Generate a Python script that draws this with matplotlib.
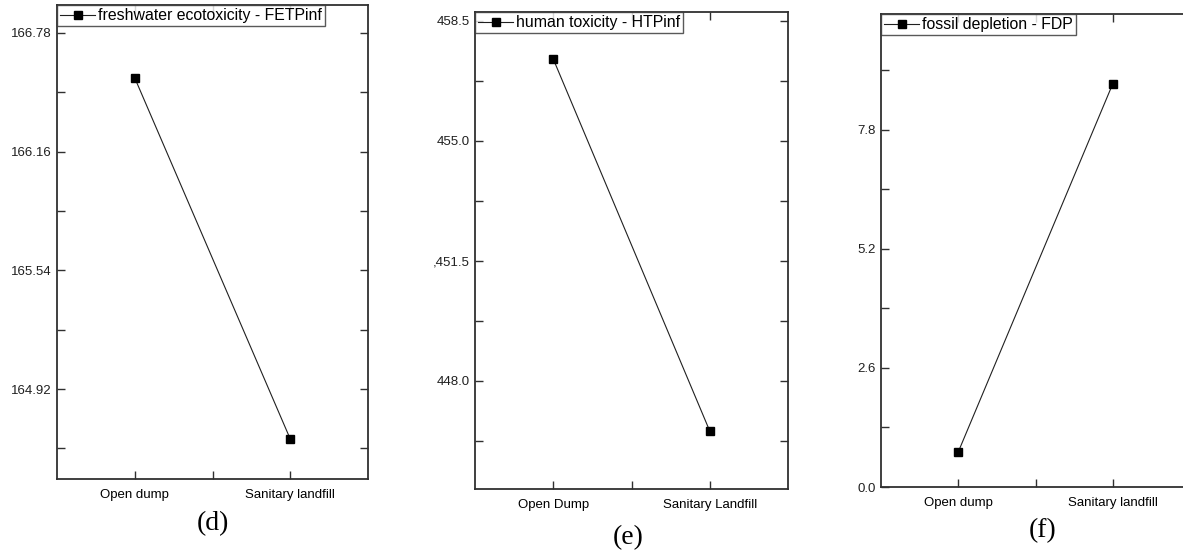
import numpy as np
import matplotlib.pyplot as plt

# data
cats_d = ["Open dump", "Sanitary landfill"]
cats_e = ["Open Dump", "Sanitary Landfill"]
cats_f = ["Open dump", "Sanitary landfill"]

fetp = [166.545, 164.659]
htp = [457.38, 446.54]
fdp = [0.765, 8.805]

labels = ["freshwater ecotoxicity - FETPinf", "human toxicity - HTPinf", "fossil depletion - FDP"]
letters = ["(d)", "(e)", "(f)"]

yticks_d = [164.92, 165.54, 166.16, 166.78]
yticks_e = [448.0, 451.5, 455.0, 458.5]
ytlabels_e = ["448.0", ",451.5", "455.0", "458.5"]
yticks_f = [0.0, 2.6, 5.2, 7.8]

plt.rcParams["font.family"] = "Liberation Sans"
edge = "#303030"

fig = plt.figure(figsize=(11.83, 5.5), dpi=100)

def panel(rect, cats, vals, label, ylim, yticks, ytlabels, letter, letter_xy, right=True):
    ax = fig.add_axes(rect)
    x = np.arange(1, len(cats) + 1)
    ax.plot(x, vals, color="#202020", lw=0.8, marker="s", ms=5.2,
            mfc="black", mec="black", label=label)
    ax.set_xlim(0.5, 2.5)
    ax.set_ylim(*ylim)
    ax.set_xticks(x)
    ax.set_xticklabels(cats, fontsize=9.5)
    ax.set_xticks([1.5], minor=True)
    ax.set_yticks(yticks)
    ax.set_yticklabels(ytlabels, fontsize=9.5, color="#202020")
    step = yticks[1] - yticks[0]
    minors = [v + step / 2 for v in yticks[:-1]]
    if ylim[0] < yticks[0] - step / 2:
        minors.append(yticks[0] - step / 2)
    if ylim[1] > yticks[-1] + step / 2:
        minors.append(yticks[-1] + step / 2)
    ax.set_yticks(minors, minor=True)
    ax.tick_params(which="both", direction="in", top=True, right=right,
                   length=6, width=1, color=edge, pad=4)
    ax.tick_params(axis="x", pad=7)
    for s in ax.spines.values():
        s.set_color(edge)
        s.set_linewidth(1.3)
    leg = ax.legend(loc="upper left", fontsize=11.4, frameon=True, fancybox=False,
                    borderaxespad=0, borderpad=0.2, handlelength=2.2,
                    handletextpad=0.2, numpoints=1)
    leg.get_frame().set_edgecolor(edge)
    leg.get_frame().set_linewidth(1.0)
    fig.text(letter_xy[0] / 1183, 1 - letter_xy[1] / 550, letter, ha="center",
             va="center", fontsize=20, family="Liberation Serif")
    return ax

panel([57 / 1183, 71 / 550, 311 / 1183, 474 / 550], cats_d, fetp, labels[0],
      (164.45, 166.926), yticks_d, ["%.2f" % v for v in yticks_d], letters[0], (213, 524))
panel([475 / 1183, 61 / 550, 313 / 1183, 477 / 550], cats_e, htp, labels[1],
      (444.85, 458.75), yticks_e, ytlabels_e, letters[1], (628, 538))
panel([881 / 1183, 63 / 550, 309 / 1183, 473 / 550], cats_f, fdp, labels[2],
      (0.0, 10.33), yticks_f, ["%.1f" % v for v in yticks_f], letters[2], (1043, 531),
      right=False)

fig.savefig("out.png", dpi=100)
